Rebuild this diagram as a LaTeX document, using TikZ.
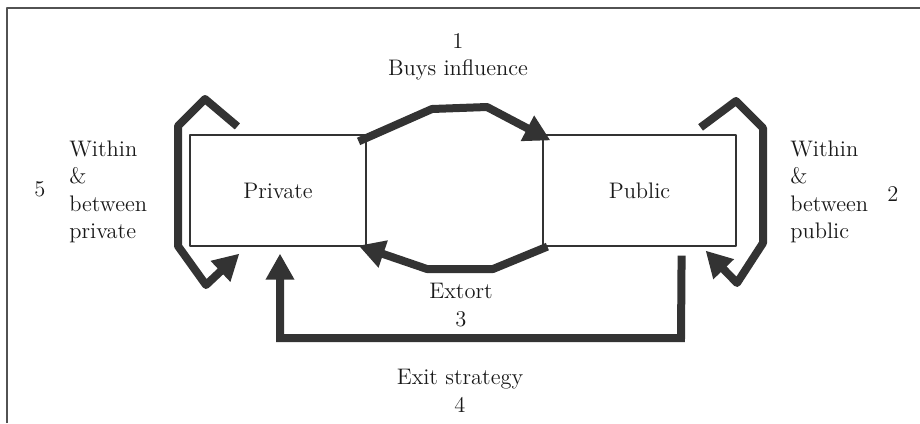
\documentclass[tikz,border=0pt]{standalone}
\usepackage{amsmath}
\usepackage{tikz}
\usetikzlibrary{arrows.meta}
\definecolor{darkline}{RGB}{51,51,51}
\definecolor{textcol}{RGB}{25,25,25}
\tikzset{
  sector/.style={draw=darkline,line width=0.7pt,minimum width=3.52cm,minimum height=2.22cm,inner sep=0pt},
  flow/.style={draw=darkline,line width=0.16cm,->},
  lbl/.style={text=textcol,font=\fontsize{12.8}{15.6}\selectfont,inner sep=0pt}
}
\begin{document}
\begin{tikzpicture}[line cap=butt,line join=round,>={Triangle[length=0.52cm,width=0.54cm]},x=0.02cm,y=-0.02cm]
\useasboundingbox (0,0) rectangle (920,423);
\draw[darkline!85,line width=0.6pt] (7,423) -- (7,8) -- (920,8);
\node[sector] (private) at (278,190.5) {};
\node[sector,minimum width=3.86cm] (public) at (639.5,190.5) {};
\node[lbl] (privatelbl) at (private.center) {Private};
\node[lbl] (publiclbl) at (public.center) {Public};
\node[lbl,align=center] (buys) at (458,57) {1\\Buys influence};
\node[lbl,align=center] (extort) at (461,305) {Extort\\3};
\node[lbl,align=center] (exit) at (460,391) {Exit strategy\\4};
\node[lbl,align=left,anchor=west] (withinpriv) at (69,192) {Within\\\&\\between\\private};
\node[lbl] (five) at (40,189) {5};
\node[lbl,align=left,anchor=west] (withinpub) at (790,192) {Within\\\&\\between\\public};
\node[lbl] (two) at (893,194) {2};
\draw[flow] ([shift={(-8,7)}]private.north east) -- (432,109) -- (487,107) -- ([shift={(8,6)}]public.north west);
\draw[flow] ([shift={(5,0)}]public.south west) -- (493,269) -- (427,269) -- ([shift={(-8,-1)}]private.south east);
\draw[flow] ([shift={(48,-8)}]private.north west) -- (205,99) -- (178,126) -- (178,246) -- (206,285) -- ([shift={(50,7)}]private.south west);
\draw[flow] ([shift={(-36,-7)}]public.north east) -- (736,101) -- (763,128) -- (763,243) -- (737,283) -- ([shift={(-31,4)}]public.south east);
\draw[flow,line join=miter] ([shift={(-55,9)}]public.south east) -- (681,338) -- (280,338) -- ([shift={(2,7)}]private.south);
\end{tikzpicture}
\end{document}
